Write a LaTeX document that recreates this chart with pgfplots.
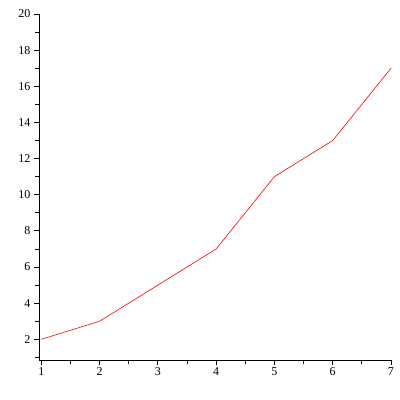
\documentclass[border=0pt]{standalone}
\usepackage{fontspec}
\setmainfont{Liberation Serif}
\usepackage{pgfplots}
\pgfplotsset{compat=1.18}
\begin{document}
\begin{tikzpicture}
\begin{axis}[
  scale only axis,
  width=352pt, height=346pt,
  xmin=0.96, xmax=7, ymin=0.855, ymax=20,
  axis x line=bottom, axis y line=left,
  axis line style={-, line width=0.8pt},
  xtick={1,2,3,4,5,6,7},
  ytick={2,4,6,8,10,12,14,16,18,20},
  minor xtick={1.5,2.5,3.5,4.5,5.5,6.5},
  minor ytick={1,3,5,7,9,11,13,15,17,19},
  tick align=outside,
  major tick length=5pt, minor tick length=4pt,
  tick style={black, line width=0.8pt},
  /pgf/number format/assume math mode=true,
  tick label style={font=\fontsize{12}{14}\selectfont},
  xticklabel style={yshift=1pt},
  clip=false,
]
\addplot[red, line width=0.6pt] coordinates {(1,2) (2,3) (3,5) (4,7) (5,11) (6,13) (7,17)};
\end{axis}
\path ([shift={(-39pt,-40pt)}]current axis.south west) rectangle ([shift={(361pt,360pt)}]current axis.south west);
\end{tikzpicture}
\end{document}
